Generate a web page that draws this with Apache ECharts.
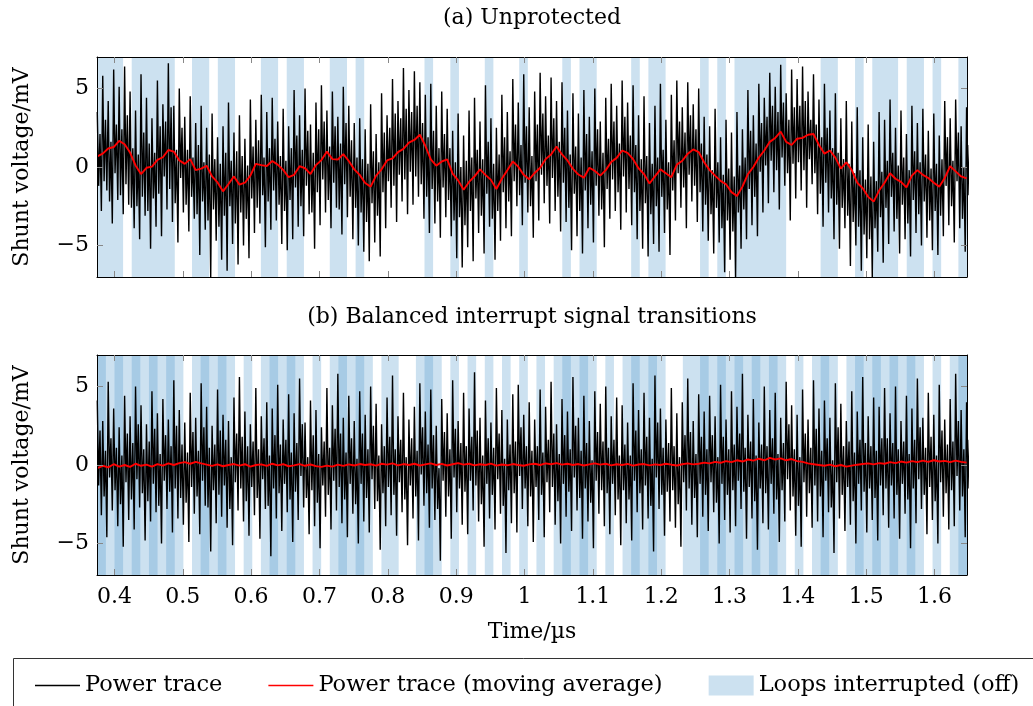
<!DOCTYPE html>
<html><head><meta charset="utf-8">
<script src="https://cdn.jsdelivr.net/npm/echarts@6/dist/echarts.min.js"></script>
<style>html,body{margin:0;padding:0;background:#fff}#c{width:1033px;height:706px}</style>
</head><body><div id="c"></div><script>
// ---------------- data ----------------
const panelTitles = ['(a) Unprotected', '(b) Balanced interrupt signal transitions'];
const xTicks = [0.4, 0.5, 0.6, 0.7, 0.8, 0.9, 1.0, 1.1, 1.2, 1.3, 1.4, 1.5, 1.6];
const yTicks = [-5, 0, 5];
const xRange = [0.3745, 1.6475];
const yRange = [-7, 7];
const xName = 'Time/µs';
const yName = 'Shunt voltage/mV';
const seriesNames = ['Power trace', 'Power trace (moving average)', 'Loops interrupted (off)'];

// sampling of the traces (µs)
const traceStart = 0.3749, traceStep = 0.002, avgStep = 0.008;

const traceA = [
3.5,-1.2,2.1,-2.8,5.8,-0.9,3.0,-1.5,4.2,-2.2,1.6,-3.6,6.2,-0.4,2.7,-2.1,5.1,-1.8,2.4,-3.0,6.4,-1.1,3.3,-2.4,4.8,-2.6,1.2,-3.9,3.6,-2.5,0.8,-4.6,
5.9,-1.9,2.2,-3.1,4.4,-2.8,1.5,-5.2,3.1,-2.0,0.9,-3.8,5.5,-1.7,2.6,-4.4,4.0,-0.6,2.9,-2.7,6.6,-1.4,3.8,-3.5,3.9,-2.3,1.1,-4.8,5.0,-0.7,2.5,-2.9,
3.2,-2.4,1.1,-4.1,4.5,-1.9,0.6,-3.3,2.8,-3.0,1.4,-5.6,3.9,-2.2,0.3,-4.0,2.5,-3.4,0.8,-7.0,3.4,-2.7,0.5,-4.7,1.9,-3.8,0.2,-5.9,2.6,-3.1,0.9,-6.6,
4.1,-2.5,0.4,-4.9,2.2,-3.6,1.0,-6.2,3.3,-2.9,0.7,-5.0,1.8,-3.3,0.1,-5.8,4.3,-2.0,1.3,-4.2,3.0,-2.6,1.7,-3.6,4.6,-1.8,0.6,-5.1,3.5,-2.2,1.2,-4.0,
4.4,-1.5,1.8,-3.4,2.9,-2.4,0.7,-4.9,3.7,-2.8,0.4,-5.3,2.6,-2.1,1.2,-4.6,4.9,-1.3,2.0,-3.8,3.3,-2.5,1.1,-4.4,5.0,-1.2,2.3,-3.0,2.7,-2.9,0.9,-5.2,
4.1,-1.6,2.4,-3.7,5.2,-0.8,2.9,-2.9,3.6,-2.1,1.3,-3.9,4.8,-1.0,2.6,-2.6,3.2,-2.7,1.5,-4.3,5.1,-1.1,2.8,-3.2,3.9,-1.9,1.7,-4.6,2.8,-2.6,0.6,-5.0,
3.1,-2.9,0.5,-5.4,2.4,-3.5,0.2,-6.0,4.0,-2.3,1.0,-4.8,2.1,-3.1,0.3,-5.7,4.7,-1.6,2.2,-3.9,3.3,-0.9,2.5,-2.6,5.6,-1.2,3.4,-3.5,4.2,-0.5,3.1,-2.2,
6.3,-0.8,3.7,-3.0,4.9,-0.3,3.5,-2.4,6.1,-0.6,3.9,-1.9,5.4,-1.1,2.8,-3.3,4.6,-1.9,1.9,-4.2,5.3,-1.4,2.3,-3.6,3.9,-2.2,1.2,-4.5,4.8,-1.3,2.1,-3.2,
3.7,-2.1,1.2,-4.4,2.3,-3.4,0.3,-5.8,3.4,-3.2,0.0,-6.4,2.0,-3.7,0.4,-5.1,3.6,-2.8,0.6,-6.0,4.4,-2.0,1.1,-4.2,2.9,-3.1,0.5,-5.5,5.2,-1.7,1.6,-3.8,
3.1,-3.3,0.2,-5.9,2.5,-2.8,0.8,-4.7,4.6,-1.6,1.9,-3.9,3.5,-2.2,1.0,-4.4,5.6,-0.9,2.7,-2.5,4.1,-1.8,1.4,-3.7,5.9,-1.0,2.6,-2.9,3.8,-2.5,0.7,-4.5,
4.8,-0.9,2.7,-3.4,6.0,-0.5,3.4,-2.3,4.5,-1.2,2.0,-3.6,5.7,-0.7,3.1,-2.8,4.2,-1.9,1.6,-4.1,5.4,-1.0,2.5,-3.5,3.6,-2.6,0.8,-5.3,4.7,-1.7,1.3,-4.4,
3.4,-2.8,0.6,-5.5,4.9,-1.5,2.1,-3.9,3.2,-2.4,1.0,-4.8,5.0,-1.2,2.4,-3.1,2.9,-2.7,0.9,-5.1,4.4,-1.4,1.8,-3.3,5.3,-0.8,2.9,-2.8,3.9,-1.6,1.5,-4.0,
5.5,-0.6,3.2,-2.9,4.1,-1.4,2.0,-3.7,5.2,-1.6,1.4,-4.6,3.3,-2.8,0.5,-5.2,4.5,-2.3,0.7,-5.7,2.8,-3.0,0.2,-4.9,3.9,-2.5,0.6,-5.4,5.3,-1.9,1.1,-4.2,
3.0,-2.7,0.3,-5.6,4.6,-1.5,1.7,-3.4,5.5,-0.4,2.9,-2.6,3.8,-1.3,2.2,-3.9,5.4,-0.5,3.3,-2.2,4.0,-1.2,2.4,-3.5,5.0,-1.6,1.5,-4.1,3.2,-2.4,0.8,-4.7,
2.6,-3.0,-0.2,-5.5,3.7,-2.6,0.3,-4.8,1.9,-3.9,-0.5,-6.7,3.0,-3.4,-0.1,-5.9,2.2,-4.1,-0.6,-7.0,3.5,-2.9,0.1,-5.2,2.4,-2.7,0.6,-4.6,4.9,-1.4,2.3,-3.7,
3.3,-1.9,1.5,-4.4,5.3,-0.3,2.8,-2.9,4.4,0.1,3.2,-2.3,6.0,0.4,3.9,-1.6,5.1,-0.2,3.5,-2.7,6.5,0.6,4.1,-1.2,4.7,-0.4,3.0,-3.4,6.2,0.2,3.8,-2.0,
5.6,0.3,3.9,-1.5,6.4,-0.2,4.2,-2.6,4.8,0.5,3.0,-1.1,5.9,-0.4,2.7,-3.0,4.3,-1.7,1.9,-3.8,5.3,-1.0,2.5,-2.9,3.6,-2.0,1.2,-4.6,4.7,-2.4,0.9,-5.2,
3.1,-2.6,0.5,-3.9,4.2,-3.1,0.2,-6.3,2.9,-3.5,-0.4,-5.0,3.8,-3.8,-0.2,-6.6,1.9,-4.3,-0.8,-5.8,2.7,-4.6,-0.6,-7.0,1.6,-3.9,-0.9,-5.4,3.5,-3.2,-0.3,-6.1,
3.0,-2.6,0.4,-4.9,4.3,-1.9,0.9,-4.1,2.5,-3.3,0.1,-5.5,3.6,-2.4,0.6,-4.6,2.1,-3.6,-0.2,-5.7,3.9,-2.1,1.0,-4.2,2.8,-3.0,0.3,-5.0,3.7,-2.2,0.8,-4.5,
2.3,-3.4,-0.1,-5.3,3.4,-2.8,0.2,-5.6,2.0,-3.1,0.5,-4.4,4.2,-1.2,1.9,-3.7,3.1,-2.5,0.4,-4.8,4.3,-0.9,2.2,-3.9,2.6,-3.3,0.0,-5.4,3.8,-1.8,1.4,-4.3
];

const traceB = [
4.1,-1.3,2.2,-3.2,2.8,-2.0,0.9,-4.6,5.3,-0.8,1.7,-2.9,3.6,-1.6,1.1,-3.9,2.4,-2.5,0.6,-5.2,4.4,-1.1,2.0,-3.5,3.1,-2.2,1.4,-4.1,5.0,-0.9,2.6,-2.7,
3.8,-1.8,1.0,-4.8,2.6,-2.3,1.5,-3.6,4.7,-1.2,2.3,-3.0,3.3,-2.6,0.7,-5.0,4.2,-1.0,1.9,-2.8,2.9,-1.7,1.2,-4.3,5.4,-1.5,2.5,-3.4,3.5,-2.1,1.3,-3.8,
2.7,-2.4,0.8,-4.9,4.6,-1.4,2.1,-3.1,3.0,-2.0,0.9,-4.4,5.2,-1.0,2.4,-2.6,3.7,-2.7,1.1,-5.5,2.5,-1.6,1.3,-3.7,4.8,-1.9,2.2,-3.3,3.2,-1.3,1.6,-4.0,
2.8,-2.8,0.5,-5.1,4.3,-1.1,2.0,-2.9,5.6,-1.5,1.8,-3.6,3.4,-2.3,1.2,-4.5,2.6,-1.4,1.5,-3.2,4.9,-2.1,1.0,-4.7,3.1,-0.9,1.7,-2.8,4.0,-2.6,0.6,-5.8,
3.6,-1.5,1.9,-3.4,5.1,-1.8,1.3,-4.2,2.9,-1.2,1.6,-3.0,4.5,-2.2,0.8,-4.9,3.3,-1.7,1.4,-3.5,5.5,-0.7,2.6,-2.7,2.7,-2.1,0.5,-4.4,4.1,-1.6,1.9,-3.9,
3.5,-2.4,0.7,-5.3,2.4,-1.3,1.5,-3.3,4.9,-1.9,1.1,-4.1,3.8,-1.0,2.3,-2.9,5.8,-1.4,2.0,-3.7,3.0,-2.2,0.8,-4.6,4.4,-1.2,1.7,-3.1,2.8,-2.5,0.4,-5.0,
4.7,-1.2,2.0,-3.6,3.2,-2.1,1.0,-4.3,5.0,-0.9,2.5,-2.8,3.9,-2.3,0.6,-5.4,2.6,-1.8,1.2,-3.9,4.3,-1.4,1.8,-3.2,5.7,-1.9,1.0,-4.5,3.1,-1.1,1.6,-3.0,
4.6,-2.2,0.5,-5.1,2.9,-1.3,1.7,-3.4,3.7,-2.0,0.9,-4.8,5.2,-0.6,2.4,-2.6,3.4,-1.8,1.3,-4.0,4.8,-1.5,1.9,-3.5,2.5,-2.8,-0.2,-6.1,4.2,-1.0,2.1,-3.3,
3.3,-2.0,1.0,-4.7,5.4,-0.8,2.3,-3.0,2.8,-1.5,1.4,-3.8,4.6,-1.7,1.2,-4.4,3.6,-1.0,1.8,-2.9,5.9,-1.3,2.2,-3.6,3.0,-2.5,0.6,-5.2,4.1,-1.2,1.7,-3.4,
2.7,-1.9,1.1,-4.1,4.9,-0.9,2.0,-3.1,3.5,-2.6,0.4,-5.6,2.9,-1.6,1.3,-3.7,4.5,-1.8,1.5,-4.3,5.1,-0.7,2.4,-2.8,3.2,-1.5,1.2,-3.9,4.0,-2.0,0.9,-4.9,
2.9,-1.4,1.2,-3.5,4.8,-1.9,0.8,-4.6,3.7,-1.1,1.6,-3.0,5.3,-1.4,2.0,-3.8,2.6,-2.3,0.7,-5.0,4.2,-1.2,1.9,-3.3,3.4,-1.7,1.0,-4.2,5.6,-0.8,2.5,-2.9,
3.0,-2.1,0.9,-4.7,4.4,-1.5,1.4,-3.6,2.8,-2.4,0.3,-5.3,4.7,-1.0,2.1,-3.1,3.9,-1.6,1.5,-3.9,5.0,-1.8,1.1,-4.4,3.1,-1.2,1.6,-3.2,4.3,-2.2,0.6,-5.1,
3.8,-1.6,1.3,-3.7,2.7,-2.2,0.6,-4.8,5.2,-1.0,2.2,-3.0,3.5,-1.8,1.0,-4.1,4.6,-1.3,1.8,-3.4,3.0,-2.6,0.4,-5.5,5.7,-0.8,2.7,-2.8,3.6,-1.9,1.1,-4.5,
2.9,-1.7,1.4,-3.6,4.9,-1.6,1.2,-4.0,3.3,-2.5,0.5,-5.2,4.0,-1.1,1.9,-2.9,5.5,-1.5,2.1,-3.8,2.8,-2.1,0.7,-4.6,4.5,-1.2,1.8,-3.3,3.4,-1.9,1.0,-4.2,
4.4,-1.1,1.9,-3.0,3.1,-2.4,0.5,-5.0,5.1,-1.2,1.8,-3.5,2.9,-1.9,1.0,-4.3,4.7,-1.6,1.3,-3.9,3.7,-1.0,2.0,-2.8,5.8,-1.7,1.1,-4.7,3.2,-1.4,1.5,-3.4,
4.2,-2.3,0.6,-5.4,2.7,-1.5,1.3,-3.7,5.0,-1.8,1.2,-4.1,3.5,-1.2,1.7,-3.1,4.6,-2.2,0.7,-4.9,3.0,-1.6,1.4,-3.6,5.3,-0.9,2.6,-2.9,3.8,-2.0,1.0,-4.5,
3.2,-2.6,0.5,-5.2,4.8,-1.1,2.0,-3.3,2.9,-1.8,1.1,-4.0,5.4,-1.3,2.3,-3.6,3.6,-2.0,0.9,-4.6,4.1,-1.0,1.7,-3.0,3.0,-2.7,0.3,-5.6,5.2,-1.1,2.4,-3.4,
3.9,-1.9,1.2,-4.2,2.8,-1.4,1.5,-3.8,4.7,-2.3,0.8,-5.0,3.4,-1.2,1.6,-2.9,5.6,-1.7,1.4,-4.3,3.1,-1.5,1.2,-3.5,4.3,-2.1,0.9,-4.8,3.7,-1.3,1.7,-3.2,
4.9,-1.5,1.7,-4.0,3.3,-1.3,1.4,-3.4,5.0,-1.9,1.0,-4.7,2.8,-1.2,1.5,-3.1,4.4,-2.2,0.7,-5.3,3.6,-1.5,1.6,-3.7,5.5,-0.9,2.4,-2.8,3.0,-1.9,1.1,-4.4,
4.6,-1.4,1.8,-3.5,3.2,-2.3,0.6,-5.0,5.1,-1.1,2.2,-3.3,2.9,-1.8,1.3,-4.1,4.2,-1.6,1.5,-3.9,5.8,-0.7,2.8,-2.9,3.5,-2.0,1.0,-4.6,4.0,-1.5,1.6,-3.4
];

const avgA = [
0.68,0.85,1.18,1.27,1.66,1.45,0.92,0.1,-0.45,-0.05,
0.02,0.45,0.62,1.08,0.98,0.42,0.2,0.5,-0.2,-0.1,
0.08,-0.6,-0.98,-1.55,-1.08,-0.6,-1.12,-1.0,-0.55,0.2,
0.12,0.06,0.38,0.15,-0.18,-0.65,-0.5,0.05,-0.08,-0.45,
0.12,0.44,0.98,0.5,0.48,0.82,0.38,-0.15,-0.5,-1.02,
-1.25,-0.55,-0.15,0.42,0.55,0.95,1.15,1.55,1.72,2.05,
1.35,0.48,0.08,0.35,0.48,-0.42,-0.85,-1.45,-0.95,-0.6,
-0.15,-0.5,-0.82,-1.4,-0.75,-0.2,0.35,0.02,-0.5,-0.78,
-0.38,-0.05,0.5,0.8,1.3,0.8,0.42,-0.12,-0.48,-0.68,
-0.05,-0.25,-0.55,-0.2,0.32,0.58,1.05,0.9,0.5,-0.08,
-0.45,-1.05,-0.6,-0.15,-0.4,-0.65,0.15,0.4,0.85,1.12,
0.95,0.3,-0.2,-0.55,-0.88,-1.1,-1.6,-1.85,-1.25,-0.45,
0.0,0.6,1.05,1.6,1.85,2.25,1.6,1.4,1.8,1.85,
2.05,2.1,1.4,0.85,1.05,0.6,-0.1,0.3,-0.2,-1.0,
-1.35,-1.9,-2.2,-1.5,-1.0,-0.4,-0.75,-0.95,-1.3,-0.55,
-0.2,-0.5,-0.7,-1.0,-1.25,-0.7,0.05,-0.28,-0.6,-0.72
];

const avgB = [
-0.2,-0.05,-0.15,0.05,-0.1,0.0,-0.12,0.08,-0.05,0.02,
-0.1,0.06,-0.04,0.1,0.0,0.12,0.18,0.08,0.2,0.1,
0.02,-0.06,0.04,-0.08,0.0,0.06,-0.04,0.05,-0.1,0.0,
0.04,-0.06,0.08,-0.02,0.05,-0.08,-0.02,0.06,-0.05,0.03,
-0.07,-0.12,-0.04,-0.1,0.02,-0.06,0.04,-0.03,0.06,0.0,
0.05,-0.04,0.08,0.02,0.1,-0.02,0.06,0.0,0.08,-0.03,
0.04,0.1,0.0,0.07,-0.03,0.05,0.12,0.02,0.08,-0.02,
0.05,0.0,0.09,-0.04,0.03,-0.02,0.06,0.0,-0.05,0.04,
0.08,0.0,0.1,0.05,0.12,0.02,0.08,0.0,0.06,-0.03,
0.04,0.1,0.02,0.08,-0.02,0.05,0.0,0.07,-0.04,0.03,
0.06,-0.02,0.04,0.0,0.08,0.02,-0.03,0.05,0.1,0.04,
0.08,0.15,0.1,0.2,0.14,0.25,0.18,0.3,0.22,0.35,
0.28,0.4,0.3,0.45,0.35,0.42,0.3,0.38,0.25,0.2,
0.1,0.05,0.0,-0.05,0.02,-0.08,0.0,-0.1,-0.04,0.02,
0.06,0.1,0.04,0.12,0.08,0.18,0.12,0.22,0.15,0.25,
0.18,0.28,0.2,0.3,0.22,0.26,0.18,0.28,0.2,0.15
];

// interrupted loop intervals (µs)
const offA = [
[0.3749,0.4127],[0.4253,0.4883],[0.5135,0.5387],[0.5513,0.5765],[0.6143,0.6395],
[0.6521,0.6773],[0.7151,0.7403],[0.7529,0.7655],[0.8537,0.8663],[0.8915,0.9041],
[0.9419,0.9545],[0.9923,1.0049],[1.0553,1.0679],[1.0805,1.1057],[1.1561,1.1687],
[1.1813,1.2065],[1.2569,1.2695],[1.2821,1.2947],[1.3073,1.3829],[1.4333,1.4585],
[1.4837,1.4963],[1.5089,1.5467],[1.5593,1.5845],[1.5971,1.6097],[1.6349,1.6475]
];
const offB = [
[0.3749,0.5009],[0.5135,0.5765],[0.5891,0.6017],[0.6143,0.6773],[0.6899,0.7025],
[0.7151,0.7781],[0.7907,0.8159],[0.8411,0.8789],[0.8915,0.9041],[0.9167,0.9293],
[0.9419,0.9545],[0.9671,0.9797],[0.9923,1.0049],[1.0175,1.0301],[1.0427,1.1057],
[1.1183,1.1309],[1.1435,1.2065],[1.2317,1.3829],[1.3955,1.4081],[1.4207,1.4585],
[1.4711,1.5845],[1.5971,1.6097],[1.6223,1.6475]
];
const offBOverlap = [
[0.3749,0.3875],[0.4001,0.4127],[0.4253,0.4379],[0.4505,0.4631],[0.4757,0.4883],
[0.5261,0.5387],[0.5513,0.5639],[0.6269,0.6395],[0.6521,0.6647],[0.7277,0.7403],
[0.7529,0.7655],[0.8537,0.8663],[1.0553,1.0679],[1.0805,1.0931],[1.1561,1.1687],
[1.1813,1.1939],[1.2569,1.2695],[1.2821,1.2947],[1.3073,1.3199],[1.3325,1.3451],
[1.3577,1.3703],[1.4333,1.4459],[1.4837,1.4963],[1.5089,1.5215],[1.5341,1.5467],
[1.5593,1.5719],[1.6349,1.6475]
];

// ---------------- chart ----------------
const FONT = '"DejaVu Serif", serif';
const FS = 22;
const LIGHT = '#cce1f0', DARK = '#a7cbe5';
const toXY = (arr, step) => arr.map((v, i) => [traceStart + i * step, v]);
const toAreas = list => list.map(([s, e]) => [{xAxis: s}, {xAxis: e}]);
const fmtX = v => String(Math.round(v * 10) / 10);
const fmtY = v => v < 0 ? '\u2212' + (-v) : String(v);

const grids = [
  {left: 97, top: 57, width: 870, height: 220, show: false},
  {left: 97, top: 355, width: 870, height: 220, show: false}
];

function xAx(gi, pos, labels) {
  return {
    type: 'value', gridIndex: gi, position: pos, min: xRange[0], max: xRange[1], z: 10,
    axisLine: {show: true, onZero: false, lineStyle: {color: '#000', width: 1}},
    axisTick: {show: true, inside: true, length: 6, customValues: xTicks, lineStyle: {color: '#888', width: 1}},
    axisLabel: {show: labels, customValues: xTicks, formatter: fmtX, margin: 11, fontFamily: FONT, fontSize: FS, color: '#000'},
    splitLine: {show: false},
    name: labels ? xName : '', nameLocation: 'middle', nameGap: 46,
    nameTextStyle: {fontFamily: FONT, fontSize: FS, color: '#000'}
  };
}
function yAx(gi, pos, labels) {
  return {
    type: 'value', gridIndex: gi, position: pos, min: yRange[0], max: yRange[1], z: 10,
    axisLine: {show: true, onZero: false, lineStyle: {color: '#000', width: 1}},
    axisTick: {show: true, inside: true, length: 6, customValues: yTicks, lineStyle: {color: '#888', width: 1}},
    axisLabel: {show: labels, customValues: yTicks, formatter: fmtY, margin: 8, fontFamily: FONT, fontSize: FS, color: '#000'},
    splitLine: {show: false},
    name: labels ? yName : '', nameLocation: 'middle', nameGap: 64, nameRotate: 90,
    nameTextStyle: {fontFamily: FONT, fontSize: FS, color: '#000'}
  };
}

function bandSeries(name, xi, yi, list, color, z) {
  return {
    type: 'line', name, xAxisIndex: xi, yAxisIndex: yi, data: [], z,
    itemStyle: {color}, lineStyle: {color},
    markArea: {silent: true, itemStyle: {color, opacity: 1}, data: toAreas(list)}
  };
}
function lineSeries(name, xi, yi, data, color, width, z) {
  return {
    type: 'line', name, xAxisIndex: xi, yAxisIndex: yi, data, z,
    symbol: 'none', showSymbol: false,
    itemStyle: {color}, lineStyle: {color, width}, emphasis: {disabled: true}
  };
}

const chart = echarts.init(document.getElementById('c'), null, {renderer: 'canvas'});
chart.setOption({
  animation: false,
  backgroundColor: '#fff',
  grid: grids,
  xAxis: [xAx(0, 'bottom', false), xAx(0, 'top', false), xAx(1, 'bottom', true), xAx(1, 'top', false)],
  yAxis: [yAx(0, 'left', true), yAx(0, 'right', false), yAx(1, 'left', true), yAx(1, 'right', false)],
  legend: {
    left: 35, top: 674, padding: 0, itemWidth: 45, itemHeight: 20, itemGap: 46, selectedMode: false,
    textStyle: {fontFamily: FONT, fontSize: 22.5, color: '#000'},
    data: [
      {name: seriesNames[0], icon: 'path://M0,0H45V1.3H0Z'},
      {name: seriesNames[1], icon: 'path://M0,0H45V1.3H0Z'},
      {name: seriesNames[2], icon: 'rect'}
    ]
  },
  graphic: [
    {type: 'text', x: 532, y: 18, style: {text: panelTitles[0], font: FS + 'px ' + FONT, fill: '#000', align: 'center', verticalAlign: 'middle', textAlign: 'center', textVerticalAlign: 'middle'}},
    {type: 'text', x: 532, y: 317, style: {text: panelTitles[1], font: FS + 'px ' + FONT, fill: '#000', align: 'center', verticalAlign: 'middle', textAlign: 'center', textVerticalAlign: 'middle'}},
    {type: 'rect', shape: {x: 13.5, y: 658.5, width: 1040, height: 60}, style: {fill: 'none', stroke: '#333', lineWidth: 1}}
  ],
  series: [
    bandSeries(seriesNames[2], 0, 0, offA, LIGHT, 1),
    bandSeries(seriesNames[2], 2, 2, offB, LIGHT, 1),
    bandSeries('overlap', 2, 2, offBOverlap, DARK, 1),
    lineSeries(seriesNames[0], 0, 0, toXY(traceA, traceStep), '#000', 1.4, 3),
    lineSeries(seriesNames[1], 0, 0, toXY(avgA, avgStep), '#ff0000', 1.9, 4),
    lineSeries(seriesNames[0], 2, 2, toXY(traceB, traceStep), '#000', 1.4, 3),
    lineSeries(seriesNames[1], 2, 2, toXY(avgB, avgStep), '#ff0000', 1.9, 4)
  ]
});
</script></body></html>
